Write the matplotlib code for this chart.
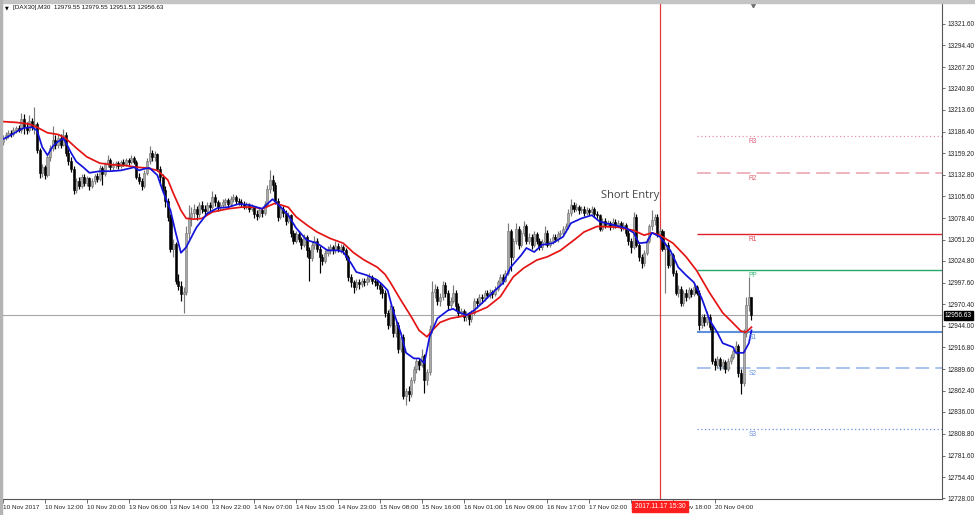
import matplotlib
matplotlib.use('Agg')
import matplotlib.pyplot as plt
import matplotlib.transforms as mtransforms
from matplotlib.patches import Rectangle
import numpy as np

# ---------------- data ----------------
symbol_title = "[DAX30],M30  12979.55 12979.55 12951.53 12956.63"

opens = [
    13174,13178,13182,13185,13183,13188,13191,13189,13202,13192,
    13188,13200,13192,13196,13163,13135,13142,13132,13155,13166,
    13176,13170,13179,13170,13182,13160,13150,13140,13114,13125,
    13119,13130,13122,13128,13118,13125,13131,13127,13141,13134,
    13146,13151,13142,13145,13147,13144,13149,13146,13151,13148,
    13153,13149,13130,13125,13118,13135,13150,13160,13155,13158,
    13140,13130,13114,13100,13080,13040,13046,13000,12994,12983,
    12986,13060,13080,13085,13090,13084,13095,13090,13087,13095,
    13092,13105,13098,13092,13095,13098,13101,13096,13102,13105,
    13100,13098,13096,13094,13095,13090,13092,13084,13081,13088,
    13085,13096,13115,13126,13120,13100,13080,13090,13085,13075,
    13082,13060,13050,13058,13052,13045,13055,13038,13028,13045,
    13050,13040,13030,13025,13035,13040,13042,13038,13044,13040,
    13042,13038,13030,13005,12998,12992,12998,12996,13000,12998,
    13002,13005,13000,12998,12995,12990,12985,12960,12945,12965,
    12935,12945,12915,12930,12856,12862,12858,12876,12890,12900,
    12895,12906,12876,12886,12940,12986,12990,12975,12980,12995,
    12985,12970,12975,12985,12968,12960,12962,12955,12958,12952,
    12960,12975,12972,12980,12978,12985,12982,12986,12984,12990,
    12998,13005,13000,13010,13062,13030,13050,13065,13045,13060,
    13068,13050,13055,13045,13058,13050,13042,13048,13060,13045,
    13050,13055,13052,13058,13060,13065,13068,13085,13095,13090,
    13092,13088,13090,13085,13088,13086,13090,13084,13082,13065,
    13075,13070,13072,13068,13074,13070,13072,13066,13070,13060,
    13050,13042,13080,13045,13030,13022,13035,13050,13068,13076,
    13080,13058,13062,13040,13045,13020,13032,13010,12985,12990,
    12972,12985,12980,12988,12984,12992,12985,12945,12955,12948,
    12955,12942,12900,12895,12902,12893,12898,12890,12900,12905,
    12912,12918,12885,12872,12935,12970,12979.55,
]
highs = [
    13182,13186,13189,13188,13192,13194,13195,13210,13208,13198,
    13207,13204,13217,13199,13166,13146,13145,13158,13170,13193,
    13182,13184,13183,13190,13186,13165,13155,13143,13128,13130,
    13134,13133,13131,13130,13128,13134,13135,13145,13144,13149,
    13157,13154,13148,13150,13150,13151,13152,13154,13154,13157,
    13156,13151,13135,13128,13138,13153,13168,13164,13162,13160,
    13144,13133,13118,13104,13083,13052,13049,13008,13000,12992,
    13068,13095,13092,13096,13094,13099,13100,13095,13099,13098,
    13112,13108,13101,13099,13102,13104,13104,13106,13109,13107,
    13104,13102,13100,13099,13097,13096,13094,13088,13092,13091,
    13100,13120,13138,13132,13124,13104,13095,13094,13088,13086,
    13084,13064,13062,13062,13055,13059,13057,13042,13050,13056,
    13053,13044,13034,13039,13044,13046,13045,13050,13047,13046,
    13045,13041,13032,13008,13001,13002,13002,13004,13003,13006,
    13010,13007,13003,13001,12998,12994,12988,12964,12970,12968,
    12950,12948,12934,12933,12866,12868,12880,12894,12904,12903,
    12915,12909,12890,12945,13000,12996,12994,12985,13000,12998,
    12988,12980,12995,12988,12972,12966,12965,12962,12961,12964,
    12978,12979,12984,12983,12989,12988,12990,12989,12994,13001,
    13008,13008,13014,13072,13065,13054,13072,13068,13063,13075,
    13071,13060,13058,13062,13061,13053,13052,13068,13063,13054,
    13059,13058,13062,13064,13068,13072,13090,13102,13099,13097,
    13095,13094,13093,13092,13091,13094,13092,13087,13084,13079,
    13078,13076,13075,13078,13077,13076,13075,13074,13072,13063,
    13054,13086,13083,13048,13034,13038,13053,13071,13088,13084,
    13083,13066,13065,13049,13048,13035,13035,13013,12995,12993,
    12988,12990,12992,12991,12998,12995,12988,12958,12958,12962,
    12958,12945,12904,12906,12905,12902,12901,12903,12908,12915,
    12925,12921,12890,12940,12980,13005,12979.55,
]
lows = [
    13170,13176,13179,13180,13181,13185,13186,13185,13184,13183,
    13186,13188,13183,13160,13128,13130,13127,13130,13150,13162,
    13165,13166,13166,13168,13156,13145,13136,13108,13110,13115,
    13116,13118,13119,13114,13116,13121,13124,13125,13120,13131,
    13142,13139,13138,13141,13140,13141,13143,13144,13145,13146,
    13146,13127,13121,13114,13116,13132,13146,13150,13150,13137,
    13120,13110,13092,13075,13036,13030,12996,12988,12975,12960,
    12982,13052,13068,13078,13076,13080,13085,13082,13084,13086,
    13090,13094,13087,13088,13091,13094,13091,13093,13098,13096,
    13095,13092,13090,13090,13086,13087,13078,13076,13079,13080,
    13082,13092,13110,13112,13096,13075,13077,13080,13070,13072,
    13055,13046,13047,13048,13040,13042,13030,13000,13025,13040,
    13036,13010,13020,13022,13031,13034,13033,13035,13036,13035,
    13033,13026,13000,12992,12985,12988,12990,12992,12993,12995,
    12999,12996,12993,12990,12983,12978,12955,12940,12942,12930,
    12930,12910,12911,12852,12845,12850,12855,12872,12885,12888,
    12892,12860,12870,12882,12935,12978,12970,12968,12976,12980,
    12964,12966,12972,12963,12955,12956,12950,12950,12945,12948,
    12957,12966,12970,12972,12975,12978,12979,12979,12981,12987,
    12994,12996,12998,13007,13012,13026,13046,13040,13042,13056,
    13046,13046,13040,13042,13046,13038,13039,13045,13042,13042,
    13046,13048,13049,13054,13057,13061,13065,13081,13086,13087,
    13084,13085,13081,13082,13082,13083,13080,13078,13062,13062,
    13066,13067,13064,13065,13066,13067,13062,13063,13056,13045,
    13035,13040,13042,13025,13016,13019,13032,13047,13064,13070,
    13055,13054,13037,12985,13016,13017,13006,12982,12980,12968,
    12969,12975,12977,12980,12981,12982,12938,12941,12944,12945,
    12938,12896,12888,12891,12889,12890,12885,12887,12896,12902,
    12909,12880,12858,12868,12930,12962,12951.53,
]
closes = [
    13178,13182,13185,13183,13188,13191,13189,13202,13192,13188,
    13200,13192,13196,13163,13135,13142,13132,13155,13166,13176,
    13170,13179,13170,13182,13160,13150,13140,13114,13125,13119,
    13130,13122,13128,13118,13125,13131,13127,13141,13134,13146,
    13151,13142,13145,13147,13144,13149,13146,13151,13148,13153,
    13149,13130,13125,13118,13135,13150,13160,13155,13158,13140,
    13130,13114,13100,13080,13040,13046,13000,12994,12983,12986,
    13060,13080,13085,13090,13084,13095,13090,13087,13095,13092,
    13105,13098,13092,13095,13098,13101,13096,13102,13105,13100,
    13098,13096,13094,13095,13090,13092,13084,13081,13088,13085,
    13096,13115,13126,13120,13100,13080,13090,13085,13075,13082,
    13060,13050,13058,13052,13045,13055,13038,13028,13045,13050,
    13040,13030,13025,13035,13040,13042,13038,13044,13040,13042,
    13038,13030,13005,12998,12992,12998,12996,13000,12998,13002,
    13005,13000,12998,12995,12990,12985,12960,12945,12965,12935,
    12945,12915,12930,12856,12862,12858,12876,12890,12900,12895,
    12906,12876,12886,12940,12986,12990,12975,12980,12995,12985,
    12970,12975,12985,12968,12960,12962,12955,12958,12952,12960,
    12975,12972,12980,12978,12985,12982,12986,12984,12990,12998,
    13005,13000,13010,13062,13030,13050,13065,13045,13060,13068,
    13050,13055,13045,13058,13050,13042,13048,13060,13045,13050,
    13055,13052,13058,13060,13065,13068,13085,13095,13090,13092,
    13088,13090,13085,13088,13086,13090,13084,13082,13065,13075,
    13070,13072,13068,13074,13070,13072,13066,13070,13060,13050,
    13042,13080,13045,13030,13022,13035,13050,13068,13076,13080,
    13058,13062,13040,13045,13020,13032,13010,12985,12990,12972,
    12985,12980,12988,12984,12992,12985,12945,12955,12948,12955,
    12942,12900,12895,12902,12893,12898,12890,12900,12905,12912,
    12918,12885,12872,12935,12970,12979.55,12956.63,
]

# moving averages (bar index, price)
blue_ma_bars = [0,3,6,8,11,13,15,17,19,21,23,24,26,28,31,33,37,41,45,49,
                50,52,54,56,59,61,64,66,68,70,73,74,78,82,86,90,94,99,101,103,
                105,109,112,116,120,124,128,130,133,135,139,143,145,147,149,152,154,157,159,161,
                163,166,170,172,174,177,180,183,187,191,194,198,200,203,206,210,214,217,221,225,
                228,233,238,241,243,246,248,251,255,258,261,264,267,270,273,275,279,280,283,285,286]
blue_ma = [13177,13182,13188,13191,13192,13188,13167,13157,13168,13174,
           13178,13173,13160,13149,13141,13135,13137,13137,13138,13141,
           13142,13138,13140,13141,13132,13113,13088,13060,13035,13042,
           13061,13067,13084,13091,13092,13096,13095,13090,13096,13102,
           13096,13082,13066,13051,13047,13038,13038,13036,13022,13011,
           13007,13001,12995,12988,12963,12935,12910,12903,12903,12897,
           12930,12953,12963,12965,12961,12957,12963,12972,12985,12997,
           13017,13032,13041,13036,13045,13047,13055,13072,13078,13082,
           13074,13070,13066,13060,13047,13048,13060,13055,13038,13017,
           13007,12998,12978,12951,12935,12922,12917,12910,12910,12922,
           12938]
red_ma_bars = [0,5,10,13,17,21,24,28,32,37,42,47,51,55,59,63,65,68,70,73,
               76,80,86,91,96,99,104,109,112,116,120,125,130,134,138,143,146,148,152,156,
               159,162,164,167,171,176,180,185,190,195,199,204,208,213,219,222,227,235,241,245,
               248,251,256,261,265,270,275,279,282,284,286]
red_ma = [13199,13198,13196,13192,13185,13183,13178,13166,13155,13147,
          13145,13144,13142,13141,13138,13126,13110,13088,13078,13077,
          13078,13086,13090,13092,13092,13090,13097,13092,13080,13070,
          13061,13053,13047,13035,13026,13017,13008,12998,12976,12955,
          12938,12930,12938,12948,12953,12956,12960,12967,12980,13005,
          13016,13026,13030,13038,13053,13061,13068,13067,13063,13057,
          13060,13057,13047,13030,13013,12985,12960,12947,12937,12936,
          12942]

# daily pivot levels
pivot_names = ["R3", "R2", "R1", "PP", "S1", "S2", "S3"]
pivot_levels = [13180.5, 13135.0, 13058.0, 13013.5, 12936.4, 12890.6, 12814.3]
pivot_start_bar = 265

current_price = 12956.63
current_price_label = "12956.63"
entry_bar = 251
entry_label = "2017.11.17 15:30"
entry_text = "Short Entry"
entry_text_price = 13106

xtick_bars = [0,16,32,48,64,80,96,112,128,144,160,176,192,208,224,240,256,272]
xtick_labels = ["10 Nov 2017","10 Nov 12:00","10 Nov 20:00","13 Nov 06:00","13 Nov 14:00",
                "13 Nov 22:00","14 Nov 07:00","14 Nov 15:00","14 Nov 23:00","15 Nov 08:00",
                "15 Nov 16:00","16 Nov 01:00","16 Nov 09:00","16 Nov 17:00","17 Nov 02:00",
                "17 Nov 10:00","17 Nov 18:00","20 Nov 04:00"]
ytick_labels = ["13321.60","13294.40","13267.20","13240.80","13213.60","13186.40","13159.20",
                "13132.80","13105.60","13078.40","13051.20","13024.80","12997.60","12970.40",
                "12944.00","12916.80","12889.60","12862.40","12836.00","12808.80","12781.60",
                "12754.40","12728.00"]

# ---------------- styles ----------------
FONT = "Liberation Sans"
pivot_styles = {
    "R3": dict(color="#e890a8", ls=(0, (1, 2)), lw=0.9, tc="#e06080"),
    "R2": dict(color="#eaa0ac", ls=(0, (9, 4)), lw=1.1, tc="#e06070"),
    "R1": dict(color="#e0202c", ls="-", lw=1.0, tc="#e04050"),
    "PP": dict(color="#26a86a", ls="-", lw=1.0, tc="#40b880"),
    "S1": dict(color="#5c8fdc", ls="-", lw=1.5, tc="#5c8fdc"),
    "S2": dict(color="#92b2ea", ls=(0, (9, 4)), lw=1.1, tc="#6c98e0"),
    "S3": dict(color="#6a8ee0", ls=(0, (1, 2)), lw=0.9, tc="#6a8ee0"),
}

W, H = 975, 515
fig = plt.figure(figsize=(W / 100, H / 100), dpi=100, facecolor="white")
ax = fig.add_axes([2 / W, 16 / H, 940 / W, 496 / H])
ax.set_facecolor("white")

n = len(closes)
x = np.arange(n)
o = np.array(opens, float); h = np.array(highs, float)
l = np.array(lows, float); c = np.array(closes, float)

ax.set_xlim(-0.38, 358.8)
ax.set_ylim(12727.25, 13347.25)

# current price line and entry line
ax.axhline(current_price, color="#a6a6a6", lw=0.8, zorder=1)
ax.axvline(entry_bar, color="#e03a3a", lw=0.9, zorder=1)

# pivots
xmax = ax.get_xlim()[1]
for name, lev in zip(pivot_names, pivot_levels):
    st = pivot_styles[name]
    ax.hlines(lev, pivot_start_bar, xmax, colors=st["color"], linestyles=st["ls"],
              lw=st["lw"], zorder=2)
    ax.annotate(name, (n - 0.4, lev), xytext=(0, -1.5), textcoords="offset points",
                ha="center", va="top", fontsize=4.8, color=st["tc"], family=FONT, zorder=6)

# candles
up = c >= o
wick_col = np.where(up, "#7a7a7a", "#000000")
ax.vlines(x, l, h, colors=wick_col, lw=0.85, zorder=3)
body_bot = np.minimum(o, c)
body_h = np.maximum(np.abs(c - o), 0.9)
ax.bar(x[up], body_h[up], bottom=body_bot[up], width=0.78, color="#a9a9a9",
       edgecolor="#707070", linewidth=0.4, zorder=4)
ax.bar(x[~up], body_h[~up], bottom=body_bot[~up], width=0.78, color="#000000",
       edgecolor="#000000", linewidth=0.4, zorder=4)

# moving averages
ax.plot(red_ma_bars, red_ma, color="#e51414", lw=1.25, zorder=5)
ax.plot(blue_ma_bars, blue_ma, color="#1212dc", lw=1.25, zorder=5)

# short entry text
ax.text(entry_bar - 0.3, entry_text_price, entry_text, ha="right", va="center",
        fontsize=8, family="Open Sans", color="#464646", zorder=6)

# axes styling
ax.spines["top"].set_visible(False)
ax.spines["left"].set_color("#bcbcbc")
ax.spines["left"].set_linewidth(1.5)
ax.spines["right"].set_color("#555555")
ax.spines["right"].set_linewidth(0.8)
ax.spines["bottom"].set_color("#555555")
ax.spines["bottom"].set_linewidth(0.8)

ax.yaxis.tick_right()
ax.set_yticks([float(t) for t in ytick_labels])
ax.set_yticklabels(ytick_labels, family=FONT, fontsize=4.7, color="#222222")
ax.tick_params(axis="y", direction="out", length=2.5, width=0.6, pad=1.5, color="#555555")

ax.set_xticks(xtick_bars)
ax.set_xticklabels(xtick_labels, family=FONT, fontsize=4.6, color="#222222", ha="left")
ax.tick_params(axis="x", direction="out", length=3, width=0.6, pad=1.5, color="#555555")

# price label box on the right axis
ty = mtransforms.blended_transform_factory(ax.transAxes, ax.transData)
ax.text(1 + 3 / 940, current_price, current_price_label, transform=ty, ha="left", va="center",
        fontsize=4.7, family=FONT, color="white", clip_on=False, zorder=10,
        bbox=dict(boxstyle="square,pad=0.18", fc="#000000", ec="#000000"))

# entry time label on the time axis
tx = mtransforms.blended_transform_factory(ax.transData, ax.transAxes)
ax.text(entry_bar, -7.5 / 496, entry_label, transform=tx, ha="center", va="center",
        fontsize=4.8, family=FONT, color="white", clip_on=False, zorder=10,
        bbox=dict(boxstyle="square,pad=0.35", fc="#ff1e1e", ec="#ff1e1e"))

# chart-shift marker on top
ax.plot([n - 0.6], [1 - 2 / 496], transform=tx, marker="v", ms=3.2, color="#707070",
        clip_on=False, zorder=10)

# window frame
fig.patches.append(Rectangle((0, 1 - 3 / H), 1, 3 / H, transform=fig.transFigure,
                             color="#c4c4c4", zorder=0))
fig.patches.append(Rectangle((0, 0), 2 / W, 1, transform=fig.transFigure,
                             color="#b4b4b4", zorder=0))

# title
fig.text(5 / W, 1 - 8 / H, "\u25bc", fontsize=3.5, family="DejaVu Sans", va="center", ha="left")
fig.text(13 / W, 1 - 8 / H, symbol_title, fontsize=4.5, family=FONT, va="center", ha="left",
         color="#111111")

fig.savefig("out.png", dpi=100, facecolor=fig.get_facecolor())
